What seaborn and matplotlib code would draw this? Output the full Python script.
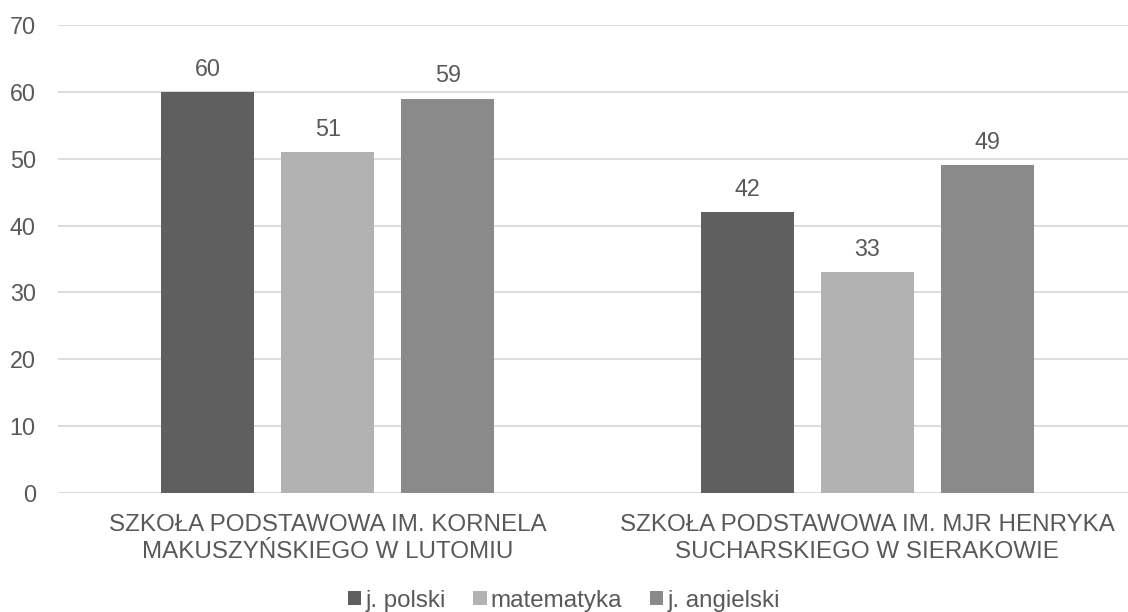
import matplotlib
matplotlib.use("Agg")
import matplotlib.pyplot as plt
import seaborn as sns
import pandas as pd

categories = ["SZKOŁA PODSTAWOWA IM. KORNELA\nMAKUSZYŃSKIEGO W LUTOMIU",
              "SZKOŁA PODSTAWOWA IM. MJR HENRYKA\nSUCHARSKIEGO W SIERAKOWIE"]
series = ["j. polski", "matematyka", "j. angielski"]
polski = [60, 42]
matematyka = [51, 33]
angielski = [59, 49]
colors = ["#5f5f5f", "#b2b2b2", "#8a8a8a"]
yticks = [0, 10, 20, 30, 40, 50, 60, 70]

sns.set_theme(style="white")
plt.rcParams['font.family'] = ['Liberation Sans', 'DejaVu Sans']
text_color = "#595959"

rows = []
for s, vals in zip(series, [polski, matematyka, angielski]):
    for c, v in zip(categories, vals):
        rows.append({"cat": c, "series": s, "value": v})
df = pd.DataFrame(rows)

fig = plt.figure(figsize=(11.28, 6.12), dpi=100)
ax = fig.add_axes([58/1128, 1-493/612, 1079/1128, (493-25)/612])

sns.barplot(data=df, x="cat", y="value", hue="series", order=categories,
            hue_order=series, palette=colors, width=0.667, gap=0.225,
            saturation=1, ax=ax, legend=True, linewidth=0)

for cont in ax.containers:
    ax.bar_label(cont, fmt="%d", padding=8, fontsize=16.8, color=text_color)

ax.set_xlim(-0.5, 1.5)
ax.set_ylim(0, 70)
ax.set_yticks(yticks)
ax.yaxis.grid(True, color="#d9d9d9", linewidth=1.3)
ax.set_axisbelow(True)
for sp in ax.spines.values():
    sp.set_visible(False)
ax.set_xlabel("")
ax.set_ylabel("")
ax.tick_params(axis="y", length=0, pad=16, labelsize=16.8, labelcolor=text_color)
ax.tick_params(axis="x", length=0, pad=15, labelsize=17.4, labelcolor=text_color)
for lbl in ax.get_xticklabels():
    lbl.set_linespacing(1.32)

handles, labels = ax.get_legend_handles_labels()
ax.get_legend().remove()
fig.legend(handles, labels, loc="lower center", bbox_to_anchor=(0.5, -0.035),
           ncol=3, frameon=False, fontsize=17.4, labelcolor=text_color,
           handlelength=0.55, handleheight=0.55, handletextpad=0.17,
           columnspacing=1.15)

fig.savefig("out.png", dpi=100)
